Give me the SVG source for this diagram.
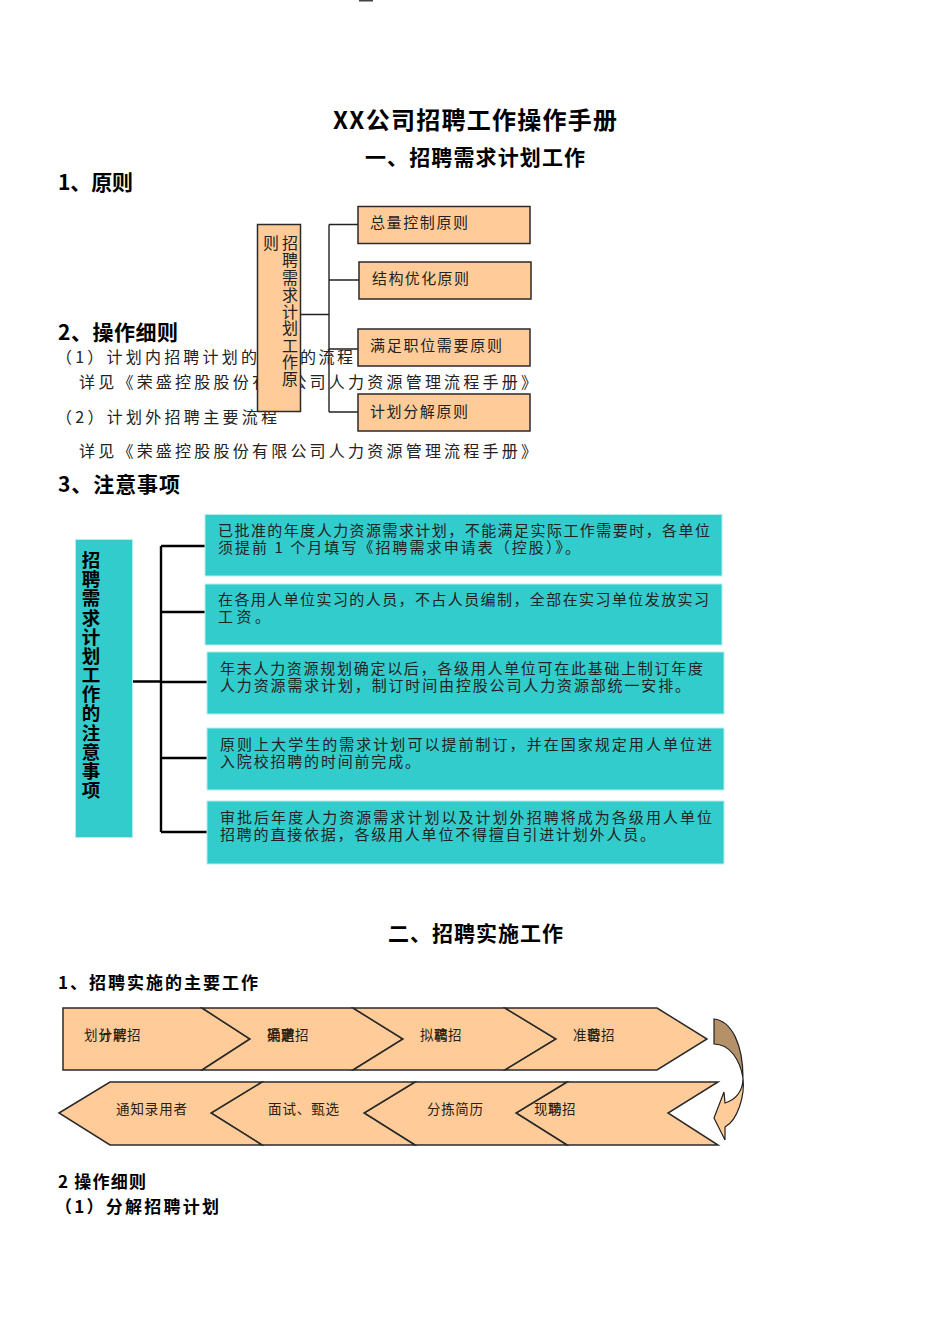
<svg xmlns="http://www.w3.org/2000/svg" width="950" height="1344" viewBox="0 0 950 1344">
<style>
text{font-family:"Noto Sans CJK SC","Liberation Sans",sans-serif;fill:#1a1a1a}
.h{font-weight:700;fill:#000}
.title{font-size:24px}
.h1{font-size:21px}
.h2{font-size:21px}
.b{font-size:16px;fill:#222}
.t{font-size:15px;fill:#222}
.c{font-size:13.5px;fill:#2a2010}
.o{fill:#FFCC99;stroke:#2a2a2a;stroke-width:1.5}
.teal{fill:#33CCCC;stroke:#B8ECEC;stroke-width:1}
.thin{fill:none;stroke:#222;stroke-width:1.4}
.thick{fill:none;stroke:#000;stroke-width:2.4}
</style>
<rect width="950" height="1344" fill="#fff"/>
<rect x="359" y="0" width="14" height="1.5" fill="#444"/>
<g id="headings">
<text class="h title" x="333" y="129" textLength="284">XX公司招聘工作操作手册</text>
<text class="h h1" x="365" y="165" textLength="220">一、招聘需求计划工作</text>
<text class="h h2" x="58" y="190" textLength="75">1、原则</text>
<text class="h h2" x="58" y="340" textLength="120">2、操作细则</text>
<text class="h h2" x="58" y="492" textLength="122">3、注意事项</text>
<text class="h h1" x="388" y="941" textLength="175">二、招聘实施工作</text>
<text class="h" font-size="17" x="58" y="989" textLength="200">1、招聘实施的主要工作</text>
<text class="h" font-size="17" x="58" y="1188" textLength="88">2 操作细则</text>
<text class="h" font-size="17" x="55" y="1213" textLength="164">（1）分解招聘计划</text>
</g>
<g id="body-text">
<text class="b" x="56" y="363" textLength="201">（1）计划内招聘计划的</text>
<text class="b" x="300" y="363" textLength="53">的流程</text>
<text class="b" x="79" y="388" textLength="458">详见《荣盛控股股份有限公司人力资源管理流程手册》</text>
<text class="b" x="56" y="423" textLength="221">（2）计划外招聘主要流程</text>
<text class="b" x="79" y="457" textLength="458">详见《荣盛控股股份有限公司人力资源管理流程手册》</text>
</g>
<g id="connectors">
<path class="thin" d="M300 314.500H329M329 224.500V412M329 224.500H358M329 280H359M329 349H358M329 412H358"/>
<path class="thick" d="M133 681.500H161M161 546V832M161 546H205M161 612H205M161 682H207M161 758H207M161 832H207"/>
</g>
<g id="principle-root">
<rect class="o" x="257.500" y="224.500" width="43" height="187"/>
<text class="b" text-anchor="middle" x="290 290 290 290 290 290 290 290 290" y="249 266 284 301 318 334 352 368 385">招聘需求计划工作原</text>
<text class="b" text-anchor="middle" x="271" y="249">则</text>
</g>
<g id="principle-1"><rect class="o" x="358" y="206.500" width="172" height="37"/><text class="t" x="370" y="228" textLength="98">总量控制原则</text></g>
<g id="principle-2"><rect class="o" x="359" y="262" width="172" height="37"/><text class="t" x="372" y="284" textLength="97">结构优化原则</text></g>
<g id="principle-3"><rect class="o" x="358" y="329" width="172" height="37"/><text class="t" x="370" y="351" textLength="132">满足职位需要原则</text></g>
<g id="principle-4"><rect class="o" x="358" y="394" width="172" height="37"/><text class="t" x="370" y="417" textLength="98">计划分解原则</text></g>
<g id="notes-root">
<rect class="teal" x="75.500" y="539.500" width="57" height="298"/>
<text class="h" font-size="18.500" text-anchor="middle" x="91 91 91 91 91 91 91 91 91 91 91 91 91" y="567 586 605 625 644 663 682 701 720 740 759 778 797">招聘需求计划工作的注意事项</text>
</g>
<g id="note-1"><rect class="teal" x="205" y="514.500" width="517" height="61.500"/>
<text class="t" x="218" y="536" textLength="492">已批准的年度人力资源需求计划，不能满足实际工作需要时，各单位</text>
<text class="t" x="218" y="553" textLength="362">须提前 1 个月填写《招聘需求申请表（控股）》。</text></g>
<g id="note-2"><rect class="teal" x="205" y="584" width="517" height="61"/>
<text class="t" x="218" y="605" textLength="491">在各用人单位实习的人员，不占人员编制，全部在实习单位发放实习</text>
<text class="t" x="218" y="622" textLength="52">工资。</text></g>
<g id="note-3"><rect class="teal" x="207" y="652" width="517" height="62"/>
<text class="t" x="220" y="674" textLength="483">年末人力资源规划确定以后，各级用人单位可在此基础上制订年度</text>
<text class="t" x="220" y="691" textLength="470">人力资源需求计划，制订时间由控股公司人力资源部统一安排。</text></g>
<g id="note-4"><rect class="teal" x="207" y="728" width="517" height="62"/>
<text class="t" x="220" y="750" textLength="492">原则上大学生的需求计划可以提前制订，并在国家规定用人单位进</text>
<text class="t" x="220" y="767" textLength="200">入院校招聘的时间前完成。</text></g>
<g id="note-5"><rect class="teal" x="207" y="801" width="517" height="63"/>
<text class="t" x="220" y="823" textLength="492">审批后年度人力资源需求计划以及计划外招聘将成为各级用人单位</text>
<text class="t" x="220" y="840" textLength="435">招聘的直接依据，各级用人单位不得擅自引进计划外人员。</text></g>
<g id="step-1"><polygon class="o" points="63,1008 202,1008 250,1039 202,1070 63,1070"/>
<text class="c" x="84 98.500 113 127" y="1040">划分解招</text><text class="c" x="98.500 113" y="1040">计聘</text></g>
<g id="step-2"><polygon class="o" points="202,1008 353,1008 403,1039 353,1070 202,1070 250,1039"/>
<text class="c" x="267 281 295" y="1040">确定招</text><text class="c" x="267 281" y="1040">渠道</text><text class="c" x="281" y="1040">聘</text></g>
<g id="step-3"><polygon class="o" points="353,1008 505,1008 556,1039 505,1070 353,1070 403,1039"/>
<text class="c" x="420 434 448" y="1040">拟稿招</text><text class="c" x="434" y="1040">聘</text></g>
<g id="step-4"><polygon class="o" points="505,1008 657,1008 707,1039 657,1070 505,1070 556,1039"/>
<text class="c" x="573 587 601" y="1040">准备招</text><text class="c" x="587" y="1040">聘</text></g>
<g id="step-8"><polygon class="o" points="516,1113 567,1082 718,1082 668,1113 718,1145 567,1145"/>
<text class="c" x="534 548 562" y="1114">现场招</text><text class="c" x="548" y="1114">聘</text></g>
<g id="step-7"><polygon class="o" points="364,1113 415,1082 567,1082 516,1113 567,1145 415,1145"/>
<text class="c" x="427" y="1114" textLength="56">分拣简历</text></g>
<g id="step-6"><polygon class="o" points="211,1113 262,1082 415,1082 364,1113 415,1145 262,1145"/>
<text class="c" x="268" y="1114" textLength="71">面试、甄选</text></g>
<g id="step-5"><polygon class="o" points="59,1113 110,1082 262,1082 211,1113 262,1145 110,1145"/>
<text class="c" x="116" y="1114" textLength="71">通知录用者</text></g>
<g id="turn-arrow">
<path d="M714 1019C732 1021 743 1045 743 1078C740 1060 730 1044 714 1044Z" fill="#B5916A" stroke="#222" stroke-width="1.2"/>
<path d="M743 1078C743 1092 735 1100 725 1103L724 1092L714 1118L725 1140L725 1127C738 1120 745 1095 743 1078Z" fill="#FFCC99" stroke="#222" stroke-width="1.2"/>
</g>
</svg>
